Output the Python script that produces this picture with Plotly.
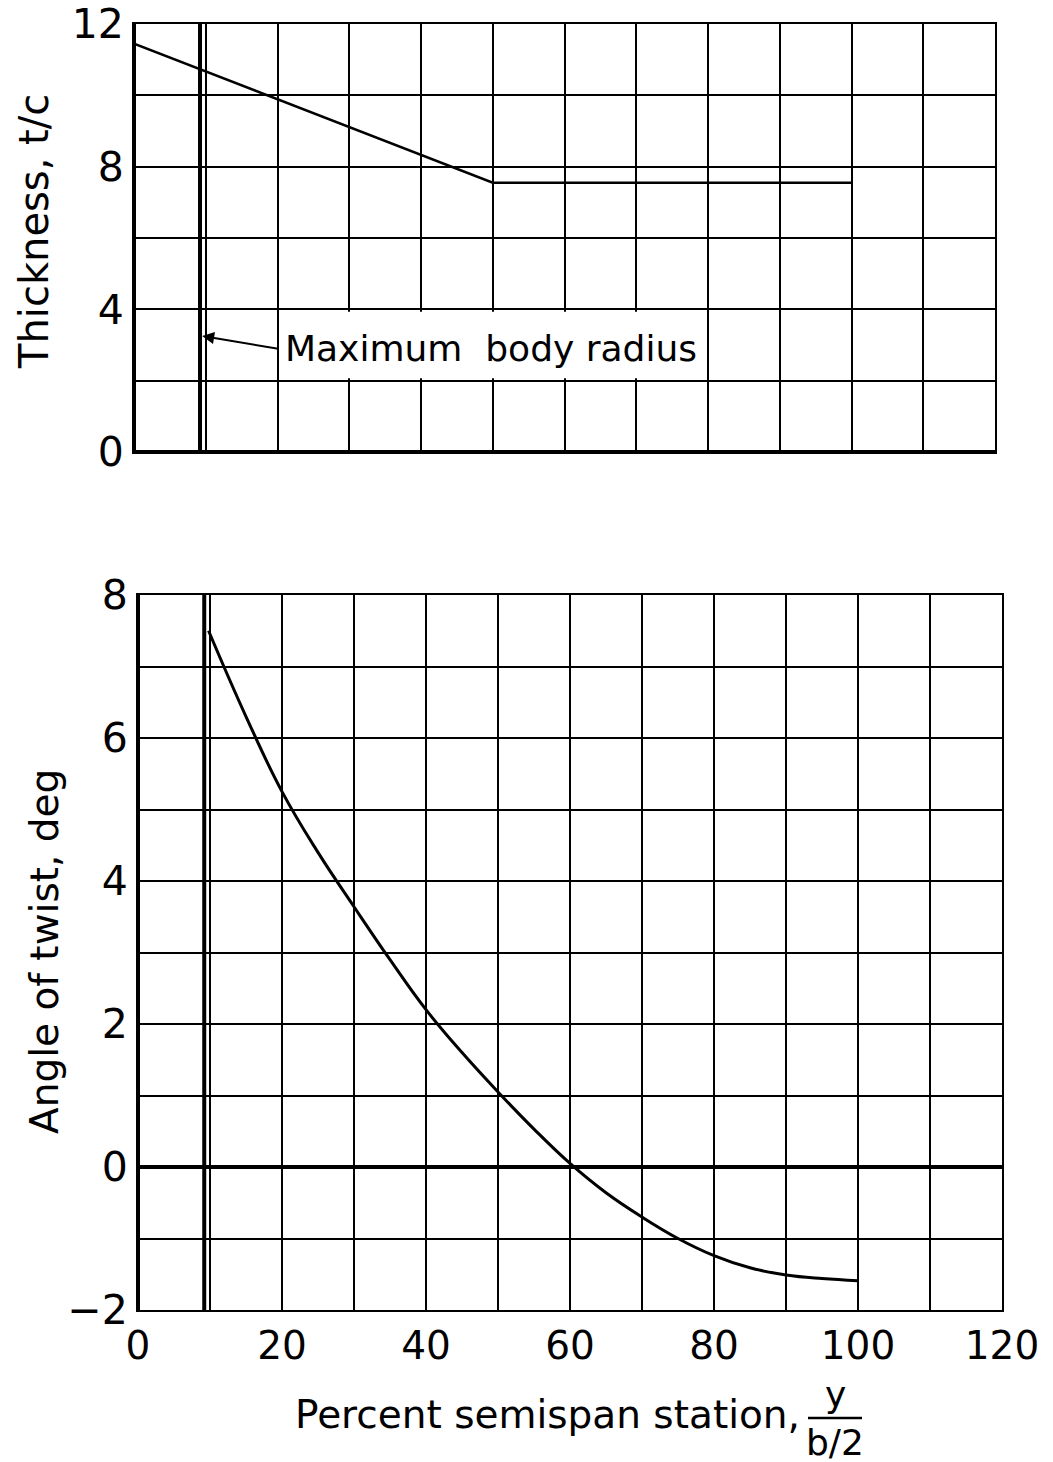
import plotly.graph_objects as go

# ---- data ----
thick_x = [0, 50, 100]
thick_y = [11.45, 7.55, 7.55]

twist_x = [9.8, 15, 20, 25, 30, 35, 40, 45, 50, 55, 60, 65, 70, 75, 80, 85, 90, 95, 100]
twist_y = [7.5, 6.3, 5.25, 4.4, 3.64, 2.9, 2.2, 1.6, 1.05, 0.53, 0.05, -0.36, -0.7,
           -1.0, -1.24, -1.41, -1.51, -1.56, -1.59]

body_radius_x = 9.2

top_y_ticks = [0, 4, 8, 12]
bot_y_ticks = [-2, 0, 2, 4, 6, 8]
bot_y_labels = ["\u22122", "0", "2", "4", "6", "8"]
x_ticks = [0, 20, 40, 60, 80, 100, 120]

W, H = 1053, 1462
FONT = "DejaVu Sans"
GRID = 1.8

def px_x(p):
    return p / W

def px_y(p):
    return 1 - p / H

fig = go.Figure()

fig.add_trace(go.Scatter(x=thick_x, y=thick_y, mode="lines",
                         line=dict(color="black", width=2.6),
                         xaxis="x", yaxis="y", showlegend=False))
fig.add_trace(go.Scatter(x=twist_x, y=twist_y, mode="lines",
                         line=dict(color="black", width=3, shape="spline", smoothing=1.2),
                         xaxis="x2", yaxis="y2", showlegend=False))

axis_common = dict(showgrid=True, gridcolor="black", gridwidth=GRID,
                   zeroline=False, showline=True, linecolor="black", linewidth=2,
                   mirror=True, ticks="", color="black", automargin=False,
                   tickfont=dict(family=FONT, size=41, color="black"))

fig.update_layout(
    width=W, height=H,
    margin=dict(l=0, r=0, t=0, b=0, autoexpand=False),
    paper_bgcolor="white", plot_bgcolor="white",
    font=dict(family=FONT, color="black"),
    xaxis=dict(axis_common, domain=[px_x(134), px_x(995)], range=[0, 120],
               anchor="y", dtick=10, showticklabels=False),
    yaxis=dict(axis_common, domain=[px_y(452), px_y(24)], range=[0, 12],
               anchor="x", tickvals=top_y_ticks,
               minor=dict(dtick=2, showgrid=True, gridcolor="black", gridwidth=GRID)),
    xaxis2=dict(axis_common, domain=[px_x(138), px_x(1002)], range=[0, 120],
                anchor="y2", tickvals=x_ticks,
                tickfont=dict(family=FONT, size=39, color="black"),
                minor=dict(dtick=10, showgrid=True, gridcolor="black", gridwidth=GRID)),
    yaxis2=dict(axis_common, domain=[px_y(1310), px_y(595)], range=[-2, 8],
                anchor="x2", tickvals=bot_y_ticks, ticktext=bot_y_labels,
                minor=dict(dtick=1, showgrid=True, gridcolor="black", gridwidth=GRID)),
)

shapes = []
# thick left borders
shapes.append(dict(type="line", xref="x", yref="y", x0=0, x1=0, y0=0, y1=12,
                   line=dict(color="black", width=4), layer="above"))
shapes.append(dict(type="line", xref="x2", yref="y2", x0=0, x1=0, y0=-2, y1=8,
                   line=dict(color="black", width=4), layer="above"))
# thick zero lines
shapes.append(dict(type="line", xref="x", yref="y", x0=0, x1=120, y0=0, y1=0,
                   line=dict(color="black", width=4), layer="above"))
shapes.append(dict(type="line", xref="x2", yref="y2", x0=0, x1=120, y0=0, y1=0,
                   line=dict(color="black", width=4), layer="above"))
# maximum body radius lines
shapes.append(dict(type="line", xref="x", yref="y", x0=body_radius_x, x1=body_radius_x,
                   y0=0, y1=12, line=dict(color="black", width=4), layer="above"))
shapes.append(dict(type="line", xref="x2", yref="y2", x0=body_radius_x, x1=body_radius_x,
                   y0=-2, y1=8, line=dict(color="black", width=4), layer="above"))
# white box behind label
shapes.append(dict(type="rect", xref="x", yref="y", x0=20.3, x1=79.7, y0=2.07, y1=3.93,
                   fillcolor="white", line=dict(width=0), layer="above"))
# fraction bar in x title
shapes.append(dict(type="line", xref="paper", yref="paper", x0=px_x(808), x1=px_x(862),
                   y0=px_y(1418), y1=px_y(1418), line=dict(color="black", width=2.5)))

fig.update_layout(shapes=shapes)

ann = []
ann.append(dict(xref="x", yref="y", x=20.8, y=2.9, text="Maximum  body radius",
                showarrow=False, xanchor="left", yanchor="middle",
                font=dict(family=FONT, size=36, color="black")))
ann.append(dict(xref="x", yref="y", x=9.5, y=3.25, ax=20.3, ay=2.89,
                axref="x", ayref="y", text="", showarrow=True,
                arrowhead=2, arrowsize=1.2, arrowwidth=2, arrowcolor="black"))
ann.append(dict(xref="paper", yref="paper", x=px_x(34), y=px_y(232),
                text="Thickness, t/c", textangle=-90, showarrow=False,
                xanchor="center", yanchor="middle",
                font=dict(family=FONT, size=40, color="black")))
ann.append(dict(xref="paper", yref="paper", x=px_x(44), y=px_y(952),
                text="Angle of twist, deg", textangle=-90, showarrow=False,
                xanchor="center", yanchor="middle",
                font=dict(family=FONT, size=39, color="black")))
ann.append(dict(xref="paper", yref="paper", x=px_x(802), y=px_y(1414),
                text="Percent semispan station,", showarrow=False,
                xanchor="right", yanchor="middle",
                font=dict(family=FONT, size=39, color="black")))
ann.append(dict(xref="paper", yref="paper", x=px_x(835), y=px_y(1394),
                text="y", showarrow=False, xanchor="center", yanchor="middle",
                font=dict(family=FONT, size=36, color="black")))
ann.append(dict(xref="paper", yref="paper", x=px_x(835), y=px_y(1442),
                text="b/2", showarrow=False, xanchor="center", yanchor="middle",
                font=dict(family=FONT, size=36, color="black")))
fig.update_layout(annotations=ann)

fig.write_html("out.html")
